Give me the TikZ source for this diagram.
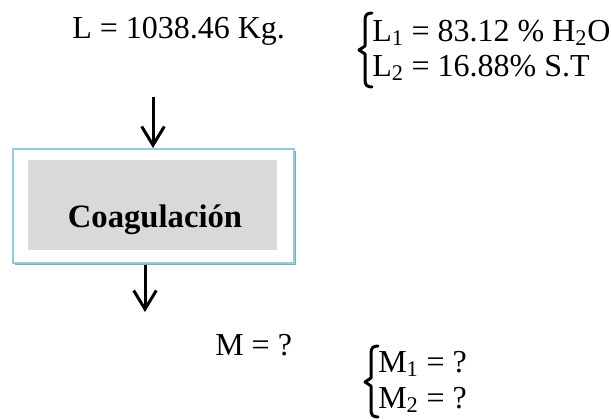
\documentclass[tikz,border=0pt]{standalone}
\usepackage{fontspec}
\setmainfont{Liberation Serif}
\usetikzlibrary{arrows.meta}
\definecolor{boxblue}{HTML}{92CDDC}
\definecolor{boxshadow}{HTML}{8EA6AF}
\definecolor{boxgray}{HTML}{D9D9D9}
\begin{document}
\begin{tikzpicture}[x=0.75pt,y=-0.75pt,
  txt/.style={inner sep=0pt,anchor=base west,font=\fontsize{24}{28}\selectfont},
  arr/.style={line width=2.25pt,-{Straight Barb[length=14pt,width=17pt]}},
  brace/.style={line width=2.25pt,line cap=round,line join=round}]
\useasboundingbox (0,0) rectangle (611,419);
% box
\fill[boxshadow] (15,151) rectangle (296,265);
\node[draw=boxblue,line width=1.5pt,fill=white,anchor=north west,minimum width=210.75pt,minimum height=85.5pt,inner sep=0pt] (box) at (12,148) {};
\node[fill=boxgray,anchor=north west,minimum width=186.75pt,minimum height=67.5pt,inner sep=0pt] (proc) at (28,160) {};
\node[inner sep=0pt,anchor=base,font=\fontsize{24.5}{28}\selectfont\bfseries] (proct) at (155,227) {Coagulación};
% texts
\node[txt] (L) at (72,38) {L = 1038.46 Kg.};
\node[txt] (L1) at (372,41) {L\textsubscript{1} = 83.12 \% H\textsubscript{2}O};
\node[txt] (L2) at (372,76) {L\textsubscript{2} = 16.88\% S.T};
\node[txt] (M) at (215,355) {M = ?};
\node[txt] (M1) at (378,372) {M\textsubscript{1} = ?};
\node[txt] (M2) at (378,408) {M\textsubscript{2} = ?};
% arrows
\coordinate (a1) at (153,97);
\draw[arr] (a1) -- (a1 |- box.north);
\coordinate (a2s) at (145,265);
\coordinate (a2e) at (145,312);
\draw[arr] (a2s) -- (a2e);
% braces
\draw[brace] (372,13) .. controls (367,13) and (365,15) .. (365,20) -- (365,46) -- (359,50) -- (365,54) -- (365,80) .. controls (365,85) and (367,87) .. (372,87);
\draw[brace] (378,346) .. controls (373,346) and (371,348) .. (371,353) -- (371,378) -- (365,382) -- (371,386) -- (371,410) .. controls (371,415) and (373,417) .. (378,417);
\end{tikzpicture}
\end{document}
